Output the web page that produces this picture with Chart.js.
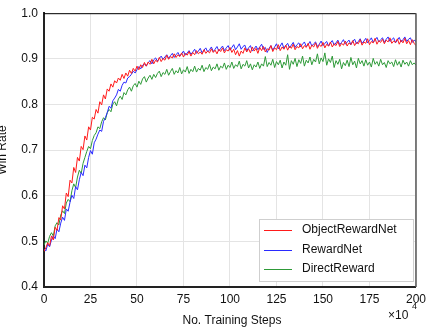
<!DOCTYPE html>
<html lang="en">
  <head>
    <meta charset="UTF-8" />
    <title>Win Rate</title>
    <script src="https://cdn.jsdelivr.net/npm/chart.js@4.4.0/dist/chart.umd.min.js"></script>
    <style>
      body { margin: 0; background: #fff; }
    </style>
  </head>
  <body>
    <canvas id="myChart" width="431" height="328"></canvas>

    <script>
      // training steps (x10^4)
      const steps = [0, 1, 2, 3, 4, 5, 6, 7, 8, 9, 10, 11, 12, 13, 14, 15, 16, 17, 18, 19,
        20, 21, 22, 23, 24, 25, 26, 27, 28, 29, 30, 31, 32, 33, 34, 35, 36, 37, 38, 39,
        40, 41, 42, 43, 44, 45, 46, 47, 48, 49, 50, 51, 52, 53, 54, 55, 56, 57, 58, 59,
        60, 61, 62, 63, 64, 65, 66, 67, 68, 69, 70, 71, 72, 73, 74, 75, 76, 77, 78, 79,
        80, 81, 82, 83, 84, 85, 86, 87, 88, 89, 90, 91, 92, 93, 94, 95, 96, 97, 98, 99,
        100, 101, 102, 103, 104, 105, 106, 107, 108, 109, 110, 111, 112, 113, 114, 115, 116, 117, 118, 119,
        120, 121, 122, 123, 124, 125, 126, 127, 128, 129, 130, 131, 132, 133, 134, 135, 136, 137, 138, 139,
        140, 141, 142, 143, 144, 145, 146, 147, 148, 149, 150, 151, 152, 153, 154, 155, 156, 157, 158, 159,
        160, 161, 162, 163, 164, 165, 166, 167, 168, 169, 170, 171, 172, 173, 174, 175, 176, 177, 178, 179,
        180, 181, 182, 183, 184, 185, 186, 187, 188, 189, 190, 191, 192, 193, 194, 195, 196, 197, 198, 199, 200];

      const objectRewardNet = [
        0.478, 0.486, 0.497, 0.490, 0.512, 0.503, 0.531, 0.524, 0.552, 0.547,
        0.578, 0.571, 0.606, 0.598, 0.634, 0.628, 0.662, 0.651, 0.684, 0.676,
        0.708, 0.701, 0.731, 0.722, 0.751, 0.744, 0.772, 0.768, 0.789, 0.781,
        0.806, 0.799, 0.821, 0.812, 0.834, 0.829, 0.845, 0.838, 0.852, 0.847,
        0.858, 0.853, 0.866, 0.857, 0.869, 0.862, 0.875, 0.868, 0.879, 0.873,
        0.884, 0.876, 0.887, 0.881, 0.892, 0.884, 0.893, 0.888, 0.899, 0.889,
        0.897, 0.893, 0.903, 0.894, 0.901, 0.897, 0.908, 0.899, 0.905, 0.902,
        0.911, 0.903, 0.909, 0.905, 0.913, 0.904, 0.912, 0.908, 0.916, 0.906,
        0.914, 0.909, 0.918, 0.911, 0.915, 0.910, 0.920, 0.912, 0.917, 0.913,
        0.922, 0.914, 0.919, 0.911, 0.921, 0.916, 0.924, 0.913, 0.920, 0.917,
        0.925, 0.914, 0.921, 0.909, 0.918, 0.906, 0.917, 0.912, 0.924, 0.915,
        0.922, 0.913, 0.926, 0.917, 0.923, 0.912, 0.925, 0.918, 0.927, 0.915,
        0.922, 0.919, 0.929, 0.916, 0.924, 0.920, 0.931, 0.918, 0.926, 0.921,
        0.930, 0.919, 0.928, 0.923, 0.932, 0.920, 0.927, 0.924, 0.933, 0.922,
        0.929, 0.925, 0.934, 0.921, 0.930, 0.926, 0.935, 0.923, 0.931, 0.927,
        0.936, 0.924, 0.932, 0.928, 0.937, 0.926, 0.933, 0.929, 0.938, 0.927,
        0.934, 0.930, 0.939, 0.928, 0.935, 0.931, 0.940, 0.929, 0.936, 0.933,
        0.942, 0.930, 0.937, 0.934, 0.944, 0.931, 0.938, 0.935, 0.945, 0.932,
        0.940, 0.936, 0.943, 0.933, 0.941, 0.937, 0.946, 0.934, 0.939, 0.936,
        0.944, 0.932, 0.941, 0.935, 0.945, 0.933, 0.940, 0.931, 0.942, 0.934, 0.929];

      const rewardNet = [
        0.483, 0.479, 0.494, 0.488, 0.503, 0.512, 0.506, 0.527, 0.521, 0.540,
        0.553, 0.546, 0.571, 0.566, 0.586, 0.601, 0.594, 0.620, 0.613, 0.635,
        0.651, 0.644, 0.667, 0.661, 0.684, 0.699, 0.691, 0.716, 0.724, 0.735,
        0.744, 0.741, 0.763, 0.771, 0.782, 0.796, 0.792, 0.808, 0.814, 0.821,
        0.833, 0.829, 0.842, 0.849, 0.847, 0.858, 0.861, 0.866, 0.873, 0.869,
        0.876, 0.883, 0.878, 0.886, 0.889, 0.884, 0.892, 0.896, 0.889, 0.898,
        0.902, 0.895, 0.901, 0.906, 0.899, 0.904, 0.909, 0.901, 0.907, 0.912,
        0.903, 0.909, 0.914, 0.906, 0.911, 0.917, 0.908, 0.913, 0.918, 0.910,
        0.915, 0.921, 0.912, 0.917, 0.923, 0.913, 0.919, 0.924, 0.915, 0.920,
        0.926, 0.916, 0.921, 0.927, 0.917, 0.923, 0.928, 0.918, 0.924, 0.929,
        0.919, 0.925, 0.931, 0.920, 0.926, 0.933, 0.921, 0.927, 0.930, 0.918,
        0.924, 0.929, 0.917, 0.922, 0.928, 0.920, 0.926, 0.932, 0.921, 0.925,
        0.914, 0.923, 0.929, 0.919, 0.926, 0.933, 0.922, 0.928, 0.935, 0.923,
        0.929, 0.934, 0.924, 0.930, 0.936, 0.925, 0.931, 0.935, 0.926, 0.932,
        0.937, 0.927, 0.931, 0.938, 0.928, 0.933, 0.937, 0.927, 0.932, 0.939,
        0.929, 0.934, 0.938, 0.928, 0.935, 0.940, 0.930, 0.935, 0.941, 0.931,
        0.936, 0.942, 0.932, 0.937, 0.941, 0.931, 0.938, 0.943, 0.933, 0.938,
        0.944, 0.934, 0.939, 0.945, 0.935, 0.940, 0.946, 0.936, 0.941, 0.947,
        0.937, 0.942, 0.946, 0.936, 0.943, 0.948, 0.938, 0.942, 0.946, 0.935,
        0.941, 0.947, 0.937, 0.942, 0.948, 0.938, 0.943, 0.946, 0.936, 0.941, 0.938];

      const directReward = [
        0.492, 0.501, 0.496, 0.511, 0.519, 0.512, 0.534, 0.541, 0.536, 0.558,
        0.567, 0.561, 0.584, 0.592, 0.587, 0.611, 0.626, 0.618, 0.641, 0.656,
        0.649, 0.671, 0.684, 0.697, 0.708, 0.703, 0.721, 0.732, 0.738, 0.751,
        0.747, 0.762, 0.771, 0.766, 0.782, 0.789, 0.784, 0.801, 0.806, 0.797,
        0.812, 0.818, 0.811, 0.826, 0.821, 0.832, 0.838, 0.829, 0.841, 0.846,
        0.838, 0.851, 0.844, 0.856, 0.861, 0.849, 0.858, 0.864, 0.855, 0.866,
        0.859, 0.868, 0.873, 0.861, 0.870, 0.866, 0.877, 0.864, 0.872, 0.879,
        0.866, 0.874, 0.869, 0.881, 0.867, 0.876, 0.871, 0.883, 0.868, 0.877,
        0.872, 0.884, 0.871, 0.879, 0.875, 0.886, 0.872, 0.881, 0.877, 0.888,
        0.874, 0.882, 0.878, 0.889, 0.875, 0.884, 0.880, 0.891, 0.877, 0.886,
        0.881, 0.893, 0.879, 0.887, 0.883, 0.895, 0.878, 0.888, 0.884, 0.896,
        0.880, 0.889, 0.876, 0.887, 0.882, 0.893, 0.879, 0.889, 0.884, 0.905,
        0.883, 0.892, 0.886, 0.899, 0.881, 0.894, 0.887, 0.897, 0.880, 0.893,
        0.886, 0.909, 0.877, 0.896, 0.888, 0.901, 0.883, 0.898, 0.890, 0.906,
        0.884, 0.897, 0.891, 0.904, 0.887, 0.899, 0.893, 0.911, 0.889, 0.902,
        0.894, 0.913, 0.886, 0.900, 0.892, 0.906, 0.881, 0.896, 0.888, 0.899,
        0.878, 0.892, 0.885, 0.897, 0.883, 0.903, 0.887, 0.895, 0.880, 0.901,
        0.889, 0.896, 0.884, 0.898, 0.886, 0.893, 0.882, 0.901, 0.888, 0.894,
        0.884, 0.899, 0.887, 0.892, 0.881, 0.896, 0.889, 0.893, 0.883, 0.898,
        0.886, 0.894, 0.882, 0.897, 0.888, 0.893, 0.884, 0.896, 0.887, 0.891, 0.886];

      const seriesNames = ['ObjectRewardNet', 'RewardNet', 'DirectReward'];
      const colors = ['#ff1a1a', '#2a2aff', '#2e9a38'];
      const font = '"Liberation Sans", Arial, Helvetica, sans-serif';

      const toPoints = vals => vals.map((v, i) => ({ x: steps[i], y: v }));

      // legend box, axis titles, frame
      const extras = {
        id: 'extras',
        afterDraw(chart) {
          const ctx = chart.ctx;
          const a = chart.chartArea;
          ctx.save();
          // top / right frame
          ctx.strokeStyle = '#000';
          ctx.lineWidth = 1;
          ctx.beginPath();
          ctx.moveTo(a.left, a.top + 0.5);
          ctx.lineTo(a.right, a.top + 0.5);
          ctx.stroke();
          ctx.strokeStyle = '#555';
          ctx.lineWidth = 1.5;
          ctx.beginPath();
          ctx.moveTo(a.right, a.top);
          ctx.lineTo(a.right, a.bottom);
          ctx.stroke();

          // legend
          const lx = 259, ly = 219, lw = 154, lh = 62;
          ctx.fillStyle = '#fff';
          ctx.fillRect(lx, ly, lw, lh);
          ctx.strokeStyle = '#cfcfcf';
          ctx.lineWidth = 1;
          ctx.strokeRect(lx + 0.5, ly + 0.5, lw, lh);
          const rows = [230, 250, 269];
          ctx.font = '12px ' + font;
          ctx.textBaseline = 'middle';
          ctx.textAlign = 'left';
          seriesNames.forEach((name, i) => {
            ctx.strokeStyle = colors[i];
            ctx.lineWidth = 1;
            ctx.beginPath();
            ctx.moveTo(264, rows[i] + 0.5);
            ctx.lineTo(292, rows[i] + 0.5);
            ctx.stroke();
            ctx.fillStyle = '#111';
            ctx.fillText(name, 302, rows[i]);
          });

          // axis titles
          ctx.fillStyle = '#111';
          ctx.textAlign = 'center';
          ctx.fillText('No. Training Steps', 232, 321);
          ctx.save();
          ctx.translate(3, 150);
          ctx.rotate(-Math.PI / 2);
          ctx.fillText('Win Rate', 0, 0);
          ctx.restore();

          // x10^4 multiplier
          ctx.textAlign = 'left';
          ctx.fillText('\u00d710', 388, 316);
          ctx.font = '9px ' + font;
          ctx.fillText('4', 412, 307);
          ctx.restore();
        }
      };

      const ctx = document.getElementById('myChart').getContext('2d');
      const myChart = new Chart(ctx, {
        type: 'line',
        data: {
          datasets: [objectRewardNet, rewardNet, directReward].map((vals, i) => ({
            label: seriesNames[i],
            data: toPoints(vals),
            borderColor: colors[i],
            borderWidth: 1,
            pointRadius: 0,
            fill: false,
            tension: 0
          }))
        },
        options: {
          responsive: false,
          animation: false,
          layout: { padding: { left: 0, right: 12, top: 11, bottom: 0 } },
          plugins: { legend: { display: false }, tooltip: { enabled: false } },
          scales: {
            x: {
              type: 'linear',
              min: 0,
              max: 200,
              afterFit: s => { s.height = 41; },
              grid: { color: '#e4e4e4', drawTicks: false },
              border: { color: '#222', width: 2 },
              ticks: { stepSize: 25, padding: 5, color: '#111', font: { size: 12, family: font } }
            },
            y: {
              min: 0.4,
              max: 1.0,
              afterFit: s => { s.width = 44; },
              grid: { color: '#e4e4e4', drawTicks: false },
              border: { color: '#222', width: 2 },
              ticks: {
                stepSize: 0.1,
                padding: 6,
                color: '#111',
                font: { size: 12, family: font },
                callback: v => v.toFixed(1)
              }
            }
          }
        },
        plugins: [extras]
      });
    </script>
  </body>
</html>
